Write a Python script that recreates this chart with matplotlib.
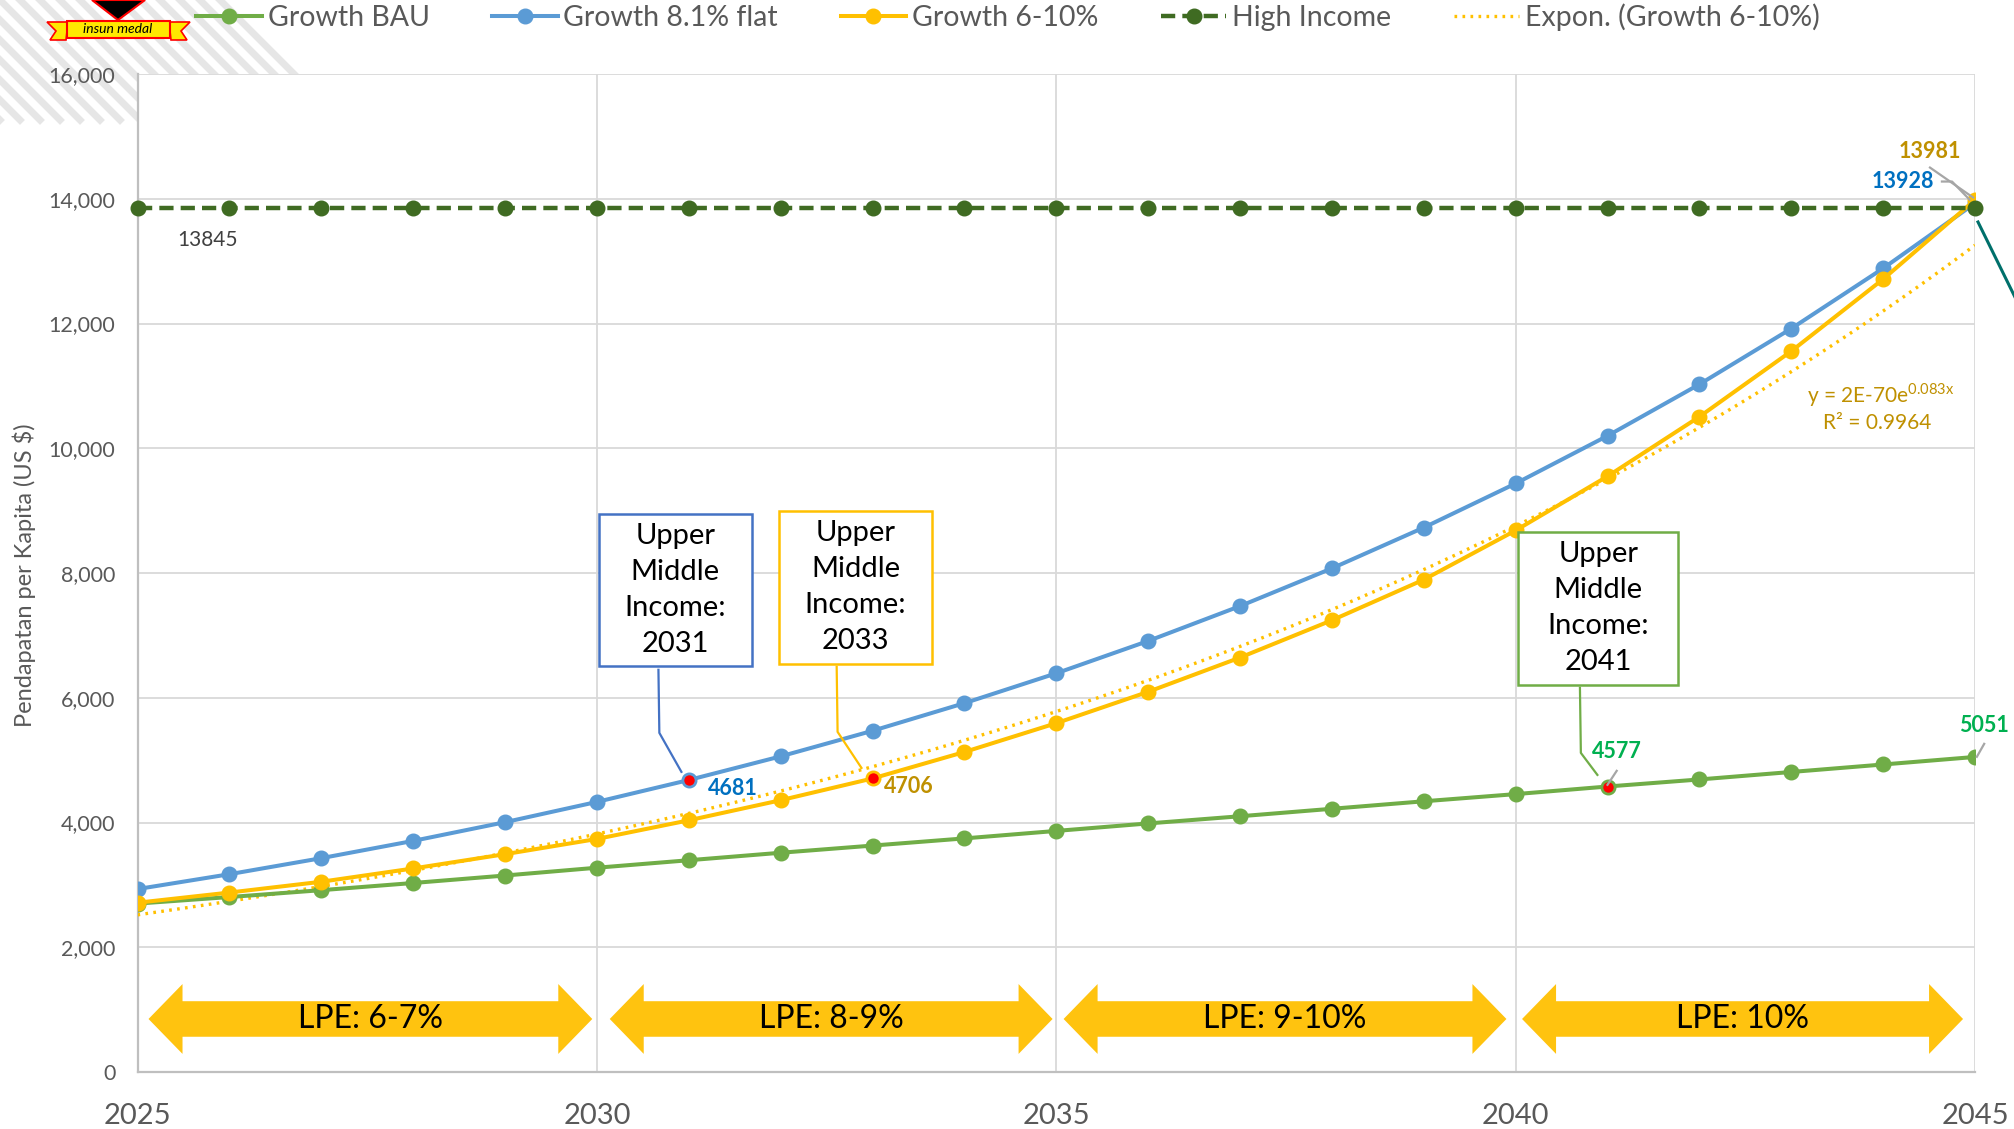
import numpy as np
import matplotlib.pyplot as plt
from matplotlib.patches import Rectangle, Polygon
from matplotlib.lines import Line2D
from matplotlib.ticker import FuncFormatter, MultipleLocator

plt.rcParams['font.family'] = ['Lato', 'DejaVu Sans']
plt.rcParams['mathtext.fontset'] = 'custom'
plt.rcParams['mathtext.rm'] = 'Lato'

W, H = 2015, 1129

# ---------------------------------------------------------------------
# Data: GDP per capita projections (US $)
# ---------------------------------------------------------------------
years = list(range(2025, 2046))
growth_bau = [2700, 2805, 2915, 3030, 3150, 3275, 3395, 3515, 3630, 3745, 3865,
              3985, 4100, 4220, 4340, 4455, 4577, 4690, 4810, 4930, 5051]
growth_flat = [2933, 3171, 3428, 3705, 4005, 4330, 4681, 5060, 5470, 5913, 6392,
               6910, 7469, 8074, 8728, 9435, 10199, 11025, 11918, 12884, 13928]
growth_6_10 = [2714, 2877, 3050, 3263, 3492, 3736, 4035, 4357, 4706, 5130, 5592,
               6095, 6644, 7242, 7893, 8682, 9550, 10505, 11556, 12711, 13981]
high_income = [13845] * len(years)

milestone_years = {"bau": 2041, "flat": 2031, "g610": 2033}

lpe_labels = ["LPE: 6-7%", "LPE: 8-9%", "LPE: 9-10%", "LPE: 10%"]
lpe_spans = [(2025.12, 2029.95), (2030.14, 2034.96), (2035.08, 2039.90), (2040.07, 2044.87)]

C_BAU = "#70AD47"
C_FLAT = "#5B9BD5"
C_G610 = "#FFC000"
C_HIGH = "#3F6B22"
C_ARROW = "#FFC30F"
C_TXT = "#595959"


def px(x, y):
    """pixel position -> figure fraction"""
    return x / W, 1 - y / H


fig = plt.figure(figsize=(W / 100, H / 100), dpi=100)
ax = fig.add_axes([137.5 / W, 1 - 1072 / H, (1975 - 137.5) / W, (1072 - 74) / H])

ax.set_xlim(2025, 2045)
ax.set_ylim(0, 16000)
ax.yaxis.set_major_locator(MultipleLocator(2000))
ax.xaxis.set_major_locator(MultipleLocator(5))
ax.yaxis.set_major_formatter(FuncFormatter(lambda v, p: f"{int(v):,}"))
ax.grid(True, color="#D9D9D9", lw=1.3)
ax.set_axisbelow(True)
for s in ("top", "right"):
    ax.spines[s].set_visible(False)
for s in ("left", "bottom"):
    ax.spines[s].set_color("#BFBFBF")
    ax.spines[s].set_linewidth(1.6)
ax.tick_params(axis="y", length=0, pad=16, labelsize=15.5, labelcolor=C_TXT)
ax.tick_params(axis="x", length=0, pad=22, labelsize=21, labelcolor=C_TXT)

# series
lw, ms = 2.9, 10.5
ax.plot(years, growth_bau, color=C_BAU, lw=lw, marker="o", ms=ms, zorder=4)
ax.plot(years, growth_flat, color=C_FLAT, lw=lw, marker="o", ms=ms, zorder=4)
ax.plot(years, growth_6_10, color=C_G610, lw=lw, marker="o", ms=ms, zorder=5)
ax.plot(years, high_income, color=C_HIGH, lw=3.2, ls=(0, (3.2, 1.6)), marker="o",
        ms=ms, zorder=6, clip_on=False)

# exponential trendline of the 6-10% series
yrs = np.array(years, dtype=float)
b, a = np.polyfit(yrs, np.log(growth_6_10), 1)
xt = np.linspace(2025, 2045, 200)
ax.plot(xt, np.exp(a + b * xt), color=C_G610, lw=2.4, ls=(0, (0.8, 1.6)), zorder=3)

# milestone points in red
for key, series, ec in (("flat", growth_flat, C_FLAT), ("g610", growth_6_10, C_G610),
                        ("bau", growth_bau, C_BAU)):
    yr = milestone_years[key]
    ax.plot(yr, series[years.index(yr)], "o", color="red", mec=ec, mew=1.5, ms=9, zorder=7)

# data labels
bold = dict(fontsize=15.5, fontweight="bold", ha="center", va="center", clip_on=False, zorder=8)
ax.text(2044.51, 14757, f"{growth_6_10[-1]}", color="#BF9000", **bold)
ax.text(2044.21, 14276, f"{growth_flat[-1]}", color="#0070C0", **bold)
ax.text(2031.48, 4539, f"{growth_flat[years.index(2031)]}", color="#0070C0", **bold)
ax.text(2033.39, 4571, f"{growth_6_10[years.index(2033)]}", color="#BF9000", **bold)
ax.text(2041.10, 5133, f"{growth_bau[years.index(2041)]}", color="#00B050", **bold)
ax.text(2045.10, 5550, f"{growth_bau[-1]}", color="#00B050", **bold)
ax.text(2025.76, 13345, f"{high_income[0]}", color="#404040", fontsize=15,
        ha="center", va="center")

gray = dict(color="#A6A6A6", lw=1.6, clip_on=False, zorder=8)
ax.plot([2044.51, 2044.98], [14500, 14019], **gray)
ax.plot([2044.64, 2044.75, 2044.94], [14276, 14276, 13987], **gray)
ax.plot([2041.10, 2041.00], [4828, 4604], **gray)
ax.plot([2045.10, 2045.02], [5261, 5053], **gray)

# trendline equation
ax.text(2043.97, 10859, r"y = 2E-70e$^{\mathrm{0.083x}}$", color="#BF9000", fontsize=15,
        ha="center", va="center")
ax.text(2043.94, 10410, "R² = 0.9964", color="#BF9000", fontsize=15, ha="center", va="center")

# callout boxes
callouts = [
    ((2030.02, 6512), (1.67, 2437), "#4472C4", "2031",
     [(2030.67, 6448), (2030.68, 5437), (2030.92, 4812)]),
    ((2031.98, 6544), (1.67, 2453), C_G610, "2033",
     [(2032.61, 6496), (2032.62, 5453), (2032.88, 4875)]),
    ((2040.03, 6207), (1.74, 2454), C_BAU, "2041",
     [(2040.70, 6159), (2040.71, 5116), (2040.89, 4763)]),
]
for (x0, y0), (w, h), col, yr, leader in callouts:
    ax.add_patch(Rectangle((x0, y0), w, h, fill=True, fc="white", ec=col, lw=1.8, zorder=9))
    ax.text(x0 + w / 2, y0 + h / 2, f"Upper\nMiddle\nIncome:\n{yr}", ha="center",
            va="center", fontsize=21, linespacing=1.48, color="black", zorder=10)
    lx, ly = zip(*leader)
    ax.plot(lx, ly, color=col, lw=1.6, zorder=8)

# LPE double arrows
yc, head_h, shaft_h, head_l = 850, 560, 285, 0.37
for (x0, x1), lab in zip(lpe_spans, lpe_labels):
    verts = [(x0, yc), (x0 + head_l, yc + head_h), (x0 + head_l, yc + shaft_h),
             (x1 - head_l, yc + shaft_h), (x1 - head_l, yc + head_h), (x1, yc),
             (x1 - head_l, yc - head_h), (x1 - head_l, yc - shaft_h),
             (x0 + head_l, yc - shaft_h), (x0 + head_l, yc - head_h)]
    ax.add_patch(Polygon(verts, closed=True, fc=C_ARROW, ec="none", zorder=5))
    ax.text((x0 + x1) / 2, yc, lab, ha="center", va="center", fontsize=23,
            color="black", zorder=6)

# axis title
fig.text(*px(24, 575), "Pendapatan per Kapita (US $)", rotation=90, ha="center",
         va="center", fontsize=17, color=C_TXT)

# leader leaving the frame on the right
fig.add_artist(Line2D([1978 / W, 2040 / W], [1 - 222 / H, 1 - 348 / H], color="#00706B", lw=2.2))

# legend
handles = [
    Line2D([], [], color=C_BAU, lw=lw, marker="o", ms=ms),
    Line2D([], [], color=C_FLAT, lw=lw, marker="o", ms=ms),
    Line2D([], [], color=C_G610, lw=lw, marker="o", ms=ms),
    Line2D([], [], color=C_HIGH, lw=3.2, ls=(0, (3.2, 1.6)), marker="o", ms=ms),
    Line2D([], [], color=C_G610, lw=2.4, ls=(0, (0.8, 1.6))),
]
labels = ["Growth BAU", "Growth 8.1% flat", "Growth 6-10%", "High Income", "Expon. (Growth 6-10%)"]
fig.legend(handles, labels, loc="center", bbox_to_anchor=(px(1008, 17)), ncol=5,
           frameon=False, fontsize=20.5, labelcolor=C_TXT, handlelength=2.3,
           handletextpad=0.2, columnspacing=2.2)

# logo watermark in the corner
for k in range(-10, 12):
    x = k * 20
    fig.add_artist(Line2D([x / W, (x + 120) / W], [1 - 0 / H, 1 - 120 / H],
                          color="#E6E6E6", lw=5, zorder=0))
fig.add_artist(Polygon([px(92, 0), px(145, 0), px(118, 20)], closed=True,
                       transform=fig.transFigure, fc="black", ec="red", lw=1.5))
fig.add_artist(Polygon([px(47, 22), px(68, 22), px(66, 40), px(50, 40), px(56, 31)],
                       closed=True, transform=fig.transFigure, fc="#FFE800", ec="red", lw=1.2))
fig.add_artist(Polygon([px(190, 22), px(169, 22), px(171, 40), px(187, 40), px(181, 31)],
                       closed=True, transform=fig.transFigure, fc="#FFE800", ec="red", lw=1.2))
fig.add_artist(Rectangle(px(67, 38), 103 / W, 17 / H, transform=fig.transFigure,
                         fc="#FFE800", ec="red", lw=1.5))
fig.text(*px(118, 29), "insun medal", ha="center", va="center", fontsize=10,
         fontstyle="italic", color="black")

fig.savefig("out.png", dpi=100)
